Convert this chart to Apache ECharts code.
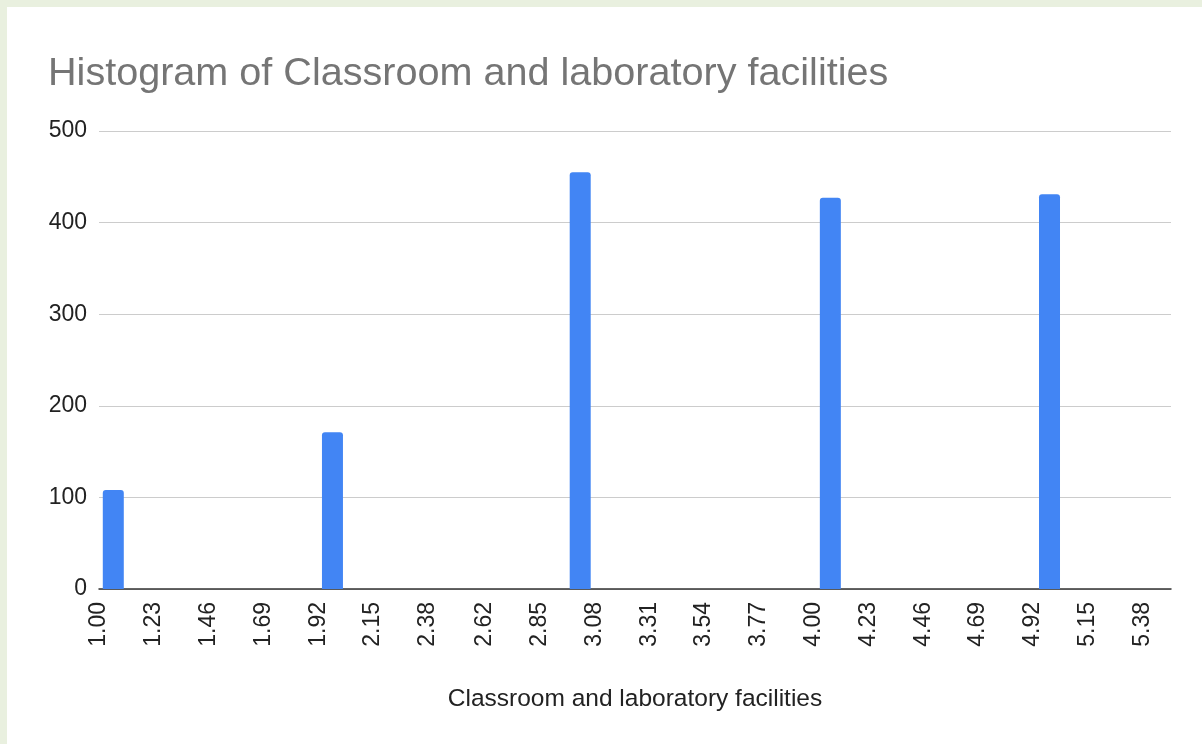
<!DOCTYPE html>
<html>
<head>
<meta charset="utf-8">
<script src="https://cdn.jsdelivr.net/npm/echarts@6/dist/echarts.min.js"></script>
<style>
  html, body { margin: 0; padding: 0; background: #e9f0df; }
  #main { position: absolute; left: 7px; top: 7px; width: 1195px; height: 737px; background: #fff; }
</style>
</head>
<body>
<div id="main"></div>
<script>
// bucket labels on the x axis
const tickLabels = ['1.00', '1.23', '1.46', '1.69', '1.92', '2.15', '2.38', '2.62', '2.85', '3.08',
  '3.31', '3.54', '3.77', '4.00', '4.23', '4.46', '4.69', '4.92', '5.15', '5.38'];
// where each bar sits on the x scale, and its count
const barX = [1.06, 1.98, 3.02, 4.07, 4.99];
const counts = [108, 171, 455, 427, 431];
const yTicks = [0, 100, 200, 300, 400, 500];

const font = '"Liberation Sans", Arial, sans-serif';
const myChart = echarts.init(document.getElementById('main'));

const option = {
  backgroundColor: '#fff',
  animation: false,
  title: {
    text: 'Histogram of Classroom and laboratory facilities',
    left: 36,
    top: 42,
    textStyle: { color: '#757575', fontSize: 39.6, fontWeight: 'normal', fontFamily: font }
  },
  grid: { left: 92, right: 31, top: 124, bottom: 155, containLabel: false },
  xAxis: {
    type: 'value',
    min: 1,
    max: 5.5,
    name: 'Classroom and laboratory facilities',
    nameLocation: 'middle',
    nameGap: 98,
    nameTextStyle: { color: '#222', fontSize: 24.5, fontFamily: font },
    axisLine: { show: true, lineStyle: { color: '#333', width: 1.5 } },
    axisTick: { show: false },
    splitLine: { show: false },
    axisLabel: {
      customValues: tickLabels.map(Number),
      formatter: (v) => v.toFixed(2),
      rotate: 90,
      margin: 13,
      color: '#222',
      fontSize: 23,
      fontFamily: font
    }
  },
  yAxis: {
    type: 'value',
    min: yTicks[0],
    max: yTicks[yTicks.length - 1],
    interval: 100,
    axisLine: { show: false },
    axisTick: { show: false },
    splitLine: { lineStyle: { color: '#ccc', width: 1 } },
    axisLabel: { color: '#222', fontSize: 23, fontFamily: font, margin: 12 }
  },
  series: [{
    type: 'bar',
    barWidth: 21,
    data: barX.map((x, i) => [x, counts[i]]),
    itemStyle: { color: '#4285f4', borderRadius: [3, 3, 0, 0] }
  }]
};
myChart.setOption(option);
</script>
</body>
</html>
